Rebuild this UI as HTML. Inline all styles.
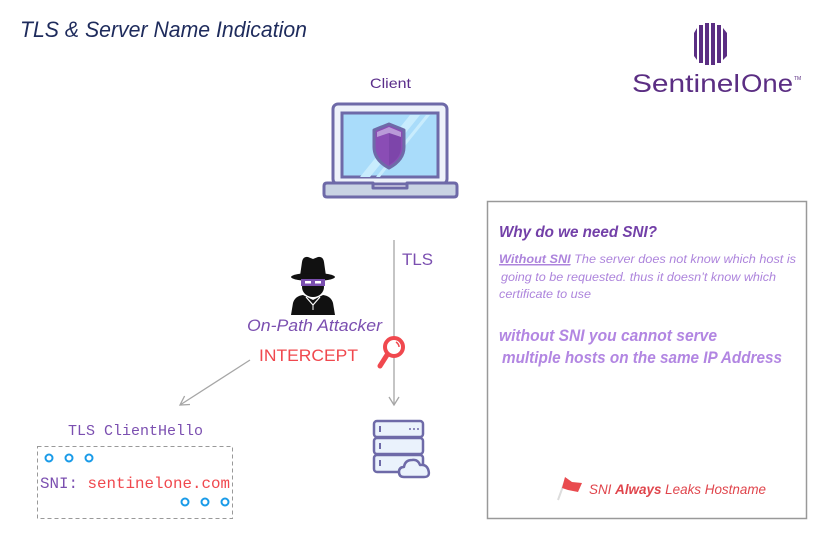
<!DOCTYPE html>
<html><head><meta charset="utf-8"><style>
html,body{margin:0;padding:0;background:#fff;}
svg{display:block;}
text{font-family:"Liberation Sans",sans-serif;}
.mono{font-family:"Liberation Mono",monospace;}
</style></head><body>
<svg width="818" height="538" viewBox="0 0 818 538" xmlns="http://www.w3.org/2000/svg">
<rect width="818" height="538" fill="#fff"/>
<!-- Title -->
<text x="20" y="37" font-size="22" font-style="italic" fill="#1e2b5c" textLength="287" lengthAdjust="spacingAndGlyphs">TLS &amp; Server Name Indication</text>

<!-- Logo -->
<g fill="#5b2e83">
  <path d="M694,33 L697,28 L697,60 L694,56 Z"/>
  <rect x="699" y="25" width="4" height="38"/>
  <rect x="705" y="23" width="4" height="42"/>
  <rect x="711" y="23" width="4" height="42"/>
  <rect x="717" y="25" width="4" height="38"/>
  <path d="M723,28 L727,33 L727,56 L723,60 Z"/>
</g>
<text x="632" y="92" font-size="25" fill="#5b2e83" textLength="108" lengthAdjust="spacingAndGlyphs">Sentinel</text>
<text x="741" y="92" font-size="25" fill="#5b2e83" textLength="52" lengthAdjust="spacingAndGlyphs">One</text>
<text x="794" y="80" font-size="5" fill="#5b2e83">TM</text>

<!-- Client -->
<text x="370" y="88" font-size="14" fill="#5a2d8a" textLength="41" lengthAdjust="spacingAndGlyphs">Client</text>

<!-- Laptop -->
<rect x="333" y="104" width="114" height="80" rx="5" fill="#eef2fa" stroke="#6e6aa8" stroke-width="3"/>
<rect x="342" y="113" width="96" height="64" fill="#a9dcfa" stroke="#6e6aa8" stroke-width="3"/>
<path d="M360,177 L410,115 L420,115 L370,177 Z" fill="#c8ecfd"/>
<path d="M376,177 L426,115 L430,115 L380,177 Z" fill="#c8ecfd"/>
<path d="M324,186 Q324,183 327,183 L373,183 L373,188 L407,188 L407,183 L454,183 Q457,183 457,186 L457,194 Q457,197 454,197 L327,197 Q324,197 324,194 Z" fill="#c9d3e3" stroke="#6e6aa8" stroke-width="3" stroke-linejoin="round"/>
<path d="M389,124 L404,130 L404,147 Q404,160 389,168 Q374,160 374,147 L374,130 Z" fill="#8a4db5" stroke="#6e6aa8" stroke-width="3" stroke-linejoin="round"/>
<path d="M389,127 L401,132 L401,137 L389,133 L377,137 L377,132 Z" fill="#b99ad8"/>
<path d="M389,133 L401,137 L401,147 Q401,158 389,165 Z" fill="#6f3ea0" opacity="0.5"/>

<!-- TLS connector -->
<line x1="394" y1="240" x2="394" y2="405" stroke="#a6a6a6" stroke-width="1.3"/>
<polyline points="389,397 394,405 399,397" fill="none" stroke="#a6a6a6" stroke-width="1.3"/>
<text x="402" y="265" font-size="17" fill="#7b4fb0" textLength="31" lengthAdjust="spacingAndGlyphs">TLS</text>

<!-- Attacker -->
<g>
  <path d="M300,276 L302,262 Q303,256 308,257 L313,259 L318,257 Q323,256 324,262 L326,276 Z" fill="#111"/>
  <ellipse cx="313" cy="277" rx="22" ry="4" fill="#111"/>
  <ellipse cx="313" cy="287" rx="11" ry="10" fill="#111"/>
  <rect x="301" y="279" width="24" height="7" fill="#7b4fb0"/>
  <rect x="305" y="281" width="6" height="2.5" fill="#fff"/>
  <rect x="315" y="281" width="6" height="2.5" fill="#fff"/>
  <path d="M291,315 L293,303 Q295,296 303,295 L313,300 L323,295 Q331,296 333,303 L335,315 Z" fill="#111"/>
  <polyline points="306,297 313,305 320,297" fill="none" stroke="#fff" stroke-width="1.2"/>
  <line x1="313" y1="305" x2="313" y2="310" stroke="#fff" stroke-width="1"/>
</g>
<text x="247" y="331" font-size="17" font-style="italic" fill="#7b4fb0" textLength="135" lengthAdjust="spacingAndGlyphs">On-Path Attacker</text>
<text x="259" y="361" font-size="17" fill="#f0484e" textLength="99" lengthAdjust="spacingAndGlyphs">INTERCEPT</text>

<!-- Magnifier -->
<line x1="387" y1="355" x2="380" y2="366" stroke="#f0484e" stroke-width="5" stroke-linecap="round"/>
<circle cx="394" cy="347" r="9" fill="#fff" stroke="#f0484e" stroke-width="4"/>
<path d="M396,342 Q399,344 399,347" fill="none" stroke="#f0484e" stroke-width="1.5"/>

<!-- Diagonal arrow -->
<line x1="250" y1="360" x2="180" y2="405" stroke="#a6a6a6" stroke-width="1.3"/>
<polyline points="190,404.5 180,405 184.6,396" fill="none" stroke="#a6a6a6" stroke-width="1.3"/>

<!-- ClientHello -->
<text class="mono" x="68" y="435" font-size="15" fill="#7b4fb0" textLength="135" lengthAdjust="spacingAndGlyphs">TLS ClientHello</text>
<rect x="37.5" y="446.5" width="195" height="72" fill="none" stroke="#999" stroke-width="1" stroke-dasharray="4,3"/>
<g fill="none" stroke="#1a9be8" stroke-width="2">
  <circle cx="49" cy="458" r="3.5"/><circle cx="69" cy="458" r="3.5"/><circle cx="89" cy="458" r="3.5"/>
  <circle cx="185" cy="502" r="3.5"/><circle cx="205" cy="502" r="3.5"/><circle cx="225" cy="502" r="3.5"/>
</g>
<text class="mono" x="40" y="488" font-size="16" textLength="190" lengthAdjust="spacingAndGlyphs"><tspan fill="#7b4fb0">SNI: </tspan><tspan fill="#f0484e">sentinelone.com</tspan></text>

<!-- Server -->
<g stroke="#6e6aa8" stroke-width="2.5" fill="#eaf2fc">
  <rect x="374" y="421" width="49" height="16" rx="3"/>
  <rect x="374" y="438" width="49" height="16" rx="3"/>
  <rect x="374" y="455" width="49" height="17" rx="3"/>
</g>
<g stroke="#6e6aa8" stroke-width="2">
  <line x1="380" y1="426" x2="380" y2="432"/>
  <line x1="380" y1="443" x2="380" y2="449"/>
  <line x1="380" y1="460" x2="380" y2="466"/>
</g>
<g fill="#6e6aa8"><circle cx="410" cy="429" r="1"/><circle cx="414" cy="429" r="1"/><circle cx="418" cy="429" r="1"/></g>
<path d="M404,477 Q399,477 399,472 Q399,467 404,467 Q405,460 412,460 Q418,459 420,465 Q426,464 428,469 Q431,477 424,477 Z" fill="#eaf2fc" stroke="#6e6aa8" stroke-width="2.5" stroke-linejoin="round"/>

<!-- Right box -->
<rect x="487.5" y="201.5" width="319" height="317" fill="#fff" stroke="#999" stroke-width="1.5"/>
<text x="499" y="237" font-size="16" font-weight="bold" font-style="italic" fill="#7340a8" textLength="158" lengthAdjust="spacingAndGlyphs">Why do we need SNI?</text>
<text x="499" y="263" font-size="12" font-style="italic" fill="#ad84dc" textLength="297" lengthAdjust="spacingAndGlyphs"><tspan font-weight="bold" text-decoration="underline">Without SNI</tspan> The server does not know which  host is</text>
<line x1="499" y1="265" x2="570" y2="265" stroke="#ad84dc" stroke-width="1"/>
<text x="501" y="281" font-size="12" font-style="italic" fill="#ad84dc" textLength="275" lengthAdjust="spacingAndGlyphs">going to be requested. thus it doesn’t know which</text>
<text x="499" y="298" font-size="12" font-style="italic" fill="#ad84dc" textLength="92" lengthAdjust="spacingAndGlyphs">certificate to use</text>
<text x="499" y="341" font-size="17" font-weight="bold" font-style="italic" fill="#b286e2" textLength="218" lengthAdjust="spacingAndGlyphs">without SNI you cannot serve</text>
<text x="502" y="363" font-size="17" font-weight="bold" font-style="italic" fill="#b286e2" textLength="280" lengthAdjust="spacingAndGlyphs">multiple hosts on the same IP Address</text>

<!-- Flag -->
<line x1="558" y1="500" x2="566" y2="478" stroke="#ddd" stroke-width="2"/>
<path d="M565,477 L572,482 L582,483 L578,492 L568,490 L562,488 Z" fill="#e94b4f"/>
<text x="589" y="494" font-size="14" font-style="italic" fill="#e0454c" textLength="177" lengthAdjust="spacingAndGlyphs">SNI  <tspan font-weight="bold">Always</tspan> Leaks Hostname</text>
</svg>
</body></html>
